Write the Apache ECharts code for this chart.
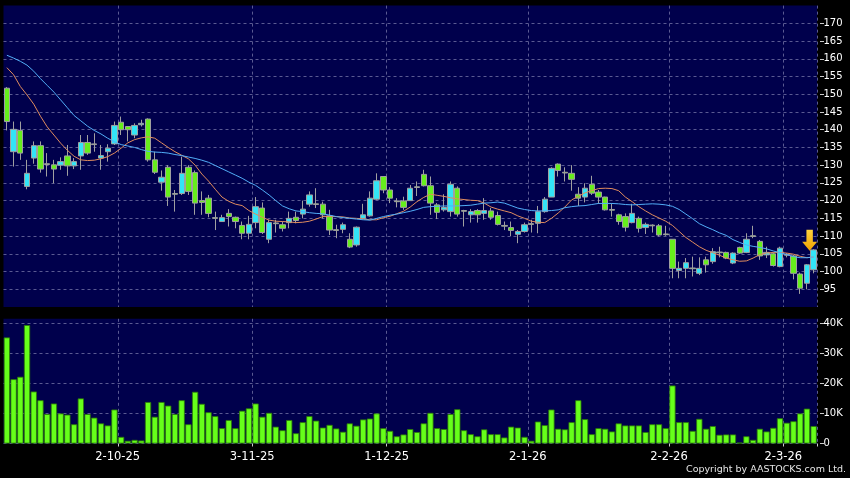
<!DOCTYPE html>
<html><head><meta charset="utf-8">
<script src="https://cdn.jsdelivr.net/npm/echarts@6/dist/echarts.min.js"></script>
<style>html,body{margin:0;padding:0;background:#000;}#c{width:850px;height:478px;}</style>
</head><body><div id="c"></div>
<script>
// ---- data ----
const tickIndex = [17, 37, 57, 78, 99, 116];
const tickLabels = ['2-10-25', '3-11-25', '1-12-25', '2-1-26', '2-2-26', '2-3-26'];
const priceTicks = [95,100,105,110,115,120,125,130,135,140,145,150,155,160,165,170];
const volumeTicks = [0,10,20,30,40];

const opens = [151.7,133.8,139.8,124.0,132.0,135.5,130.4,130.1,130.0,132.6,
129.8,132.6,136.4,136.0,132.0,133.8,136.0,142.1,140.9,138.5,
141.4,143.0,131.5,125.2,129.4,122.0,122.0,129.4,127.9,120.0,
120.7,115.2,114.1,116.4,115.3,113.0,110.8,113.8,117.9,109.1,
113.7,113.2,113.8,115.3,116.2,119.0,119.1,119.0,115.7,111.8,
111.9,109.1,107.5,115.0,115.7,120.4,126.8,123.0,119.9,119.9,
120.0,123.9,127.4,124.2,118.8,117.4,116.9,123.5,117.2,116.0,
117.2,116.4,117.1,115.8,113.0,112.4,110.5,111.3,113.5,113.6,
116.9,121.0,130.3,128.0,127.7,121.8,121.0,124.6,122.4,121.0,
117.5,116.0,115.5,113.8,115.0,112.4,113.1,112.9,110.6,109.1,
100.3,100.9,101.0,99.5,103.3,102.8,105.5,105.4,102.4,106.8,
105.4,110.1,108.5,104.7,105.0,101.4,104.8,104.4,99.3,96.7,
100.5];
const closes = [142.3,140.1,133.4,127.7,135.5,128.9,130.2,128.9,131.0,129.8,
131.0,136.4,133.4,135.8,132.7,134.8,141.2,140.0,140.0,141.2,
141.8,131.5,128.0,126.6,121.0,121.8,127.7,122.6,119.3,119.5,
116.4,115.0,115.2,115.5,114.1,110.8,113.3,118.3,111.0,113.8,
113.5,112.2,115.0,114.4,117.6,121.6,118.9,116.0,111.7,111.6,
113.2,106.9,112.5,116.0,120.7,125.6,123.0,120.7,119.7,118.1,
123.5,123.7,124.2,119.3,116.7,118.1,124.6,116.2,117.0,116.9,
116.0,117.2,115.3,113.3,112.8,111.6,111.3,113.2,113.3,116.9,
120.4,129.1,128.5,127.8,126.0,120.7,123.5,122.1,121.0,117.4,
117.3,114.1,112.5,116.4,112.2,113.3,112.9,110.3,110.4,100.9,
100.9,102.5,100.8,100.9,101.9,105.6,105.3,103.8,105.2,105.2,
109.1,109.9,104.4,105.4,101.7,106.6,104.6,99.5,95.3,101.9,
106.1];
const lows = [139.8,129.6,131.5,123.2,130.4,127.9,126.8,124.9,128.7,127.0,
128.9,128.7,132.9,133.8,128.7,131.0,135.7,138.5,136.7,137.6,
140.9,131.0,127.5,122.8,118.5,116.9,121.6,121.6,116.0,116.0,
115.3,111.7,114.1,112.7,112.2,109.1,109.1,112.2,110.6,108.0,
111.0,111.3,112.2,113.6,115.0,118.3,117.9,115.0,110.3,109.4,
110.8,106.6,107.0,114.8,115.5,120.2,122.1,119.3,118.1,117.4,
120.0,121.3,124.0,116.0,114.8,116.9,115.5,115.5,112.7,113.8,
113.8,114.6,114.6,113.0,111.7,110.0,108.0,111.0,111.0,110.8,
116.6,121.0,126.8,125.4,122.8,118.5,119.5,121.6,119.1,117.2,
115.5,113.2,111.3,113.6,111.0,110.6,111.0,109.9,110.1,98.1,
98.1,98.1,98.6,99.0,99.7,102.2,104.0,103.5,102.1,105.0,
105.2,109.4,103.3,103.8,101.4,101.2,104.0,97.8,93.7,95.0,
99.5];
const highs = [152.0,142.3,142.3,131.5,136.7,136.7,133.4,131.5,132.2,135.7,
132.0,138.5,138.5,139.0,135.7,135.9,142.3,143.7,140.9,141.8,
142.8,143.2,133.8,128.5,130.0,123.0,132.4,130.0,128.5,122.6,
121.6,116.9,116.0,117.6,115.5,114.1,115.7,121.0,119.5,114.6,
114.6,114.1,116.9,116.9,120.0,122.6,123.5,119.7,117.4,113.2,
113.8,110.8,112.7,119.1,122.6,127.7,126.8,123.8,120.7,121.1,
124.4,125.4,128.7,126.8,119.3,121.8,125.4,124.0,117.4,117.6,
117.6,120.7,117.9,116.9,114.1,114.1,111.7,113.8,114.6,118.5,
121.0,129.4,130.5,129.4,130.0,123.8,124.9,127.0,123.0,121.1,
119.1,116.3,116.4,119.1,115.5,113.8,113.3,113.4,112.9,109.1,
102.8,103.8,104.2,104.0,104.2,106.6,107.0,105.6,105.4,107.0,
110.8,112.9,108.9,107.0,105.4,107.0,105.2,104.7,99.7,102.1,
106.3];
const volumesK = [35.3,21.4,22.2,39.4,17.3,14.4,9.8,13.3,10.0,9.6,
6.4,15.0,9.8,8.6,6.7,6.0,11.3,2.2,0.9,1.2,
1.0,13.8,8.9,13.8,12.6,9.8,14.4,6.4,17.2,13.2,
10.4,9.1,5.1,7.8,5.1,10.9,11.7,13.3,8.9,10.2,
5.6,4.4,7.8,3.4,7.1,9.1,7.6,5.3,6.2,5.0,
3.9,6.7,5.9,8.0,8.3,10.0,5.1,4.2,2.4,3.0,
4.8,3.8,6.7,10.2,5.1,4.8,9.8,11.4,4.4,3.1,
2.4,4.7,3.1,3.1,2.0,5.6,5.3,2.2,0.9,7.3,
6.1,11.3,4.9,4.7,7.1,14.4,8.1,3.1,5.1,4.9,
4.0,6.7,6.0,6.0,6.0,3.8,6.4,6.4,5.1,19.3,
7.1,7.1,4.2,8.2,4.9,5.8,2.9,3.0,3.0,0.3,
2.4,1.2,4.9,4.0,5.2,8.4,6.9,7.4,10.0,11.6,
5.8];
const ma10 = [157.5,155.5,152.2,149.8,147.2,143.8,140.8,138.5,136.2,134.2,
132.5,131.5,131.3,131.4,131.8,132.4,133.4,134.8,136.3,137.2,
137.7,138.0,137.6,136.3,135.0,133.8,132.8,131.8,130.0,127.5,
125.5,123.2,121.0,119.8,119.0,118.6,117.2,116.2,115.3,114.5,
114.2,114.1,114.0,113.8,113.9,114.2,114.8,115.5,115.5,115.5,
115.4,115.1,115.0,114.8,114.6,114.6,115.2,115.6,116.3,117.0,
118.2,119.7,120.9,121.8,121.5,121.2,120.8,120.5,120.3,120.1,
120.0,119.3,118.2,117.6,117.1,116.6,115.7,115.0,114.2,113.9,
113.8,115.0,116.5,118.2,120.2,121.2,122.2,122.8,123.4,123.5,
123.4,122.8,121.0,119.7,118.3,117.1,116.0,115.1,114.2,113.0,
111.3,109.6,108.3,107.0,106.0,105.3,104.6,103.8,103.3,102.9,
103.0,103.8,104.8,105.2,105.4,105.4,105.2,104.9,104.3,103.9,
104.1];
const ma20 = [161.0,160.2,159.3,158.2,156.5,154.4,152.5,150.6,148.4,146.2,
144.0,142.5,141.0,139.8,138.8,137.6,136.6,135.8,135.4,135.0,
134.4,133.9,133.7,133.6,133.4,133.0,132.7,132.3,131.9,131.4,
130.8,129.9,129.0,128.1,127.2,126.3,125.2,124.3,123.0,121.6,
120.0,118.5,117.7,117.1,116.9,116.6,116.4,116.3,115.9,115.5,
115.2,115.0,114.8,114.6,114.5,115.0,115.5,115.9,116.2,116.6,
117.0,117.5,118.1,118.3,118.4,118.5,118.5,118.5,118.6,118.7,
119.0,119.3,119.4,119.6,119.3,118.6,117.9,117.5,117.2,117.1,
117.1,117.2,117.4,118.0,118.3,118.5,118.6,118.9,119.2,119.2,
119.2,119.1,118.9,118.8,118.9,119.0,119.1,119.0,118.8,118.4,
117.5,116.2,114.9,113.5,112.6,111.8,110.9,110.2,109.0,108.2,
107.5,107.1,106.8,106.4,105.8,105.3,104.8,104.2,103.9,103.9,
104.1];
const categories = opens.map((_, i) => String(i));
const arrowAt = { index: 120, value: 108.8 };

// ---- styling ----
const NAVY = '#00004c';
const GRIDC = '#5a5a92';
const CYAN = '#33e4f7';
const GREEN = '#66ee1c';
const isTick = (i) => tickIndex.indexOf(i) >= 0;

const chart = echarts.init(document.getElementById('c'), null, {renderer: 'canvas'});
const candleData = opens.map((o, i) => [o, closes[i], lows[i], highs[i]]);

const option = {
  backgroundColor: '#000',
  animation: false,
  textStyle: {fontFamily: 'DejaVu Sans'},
  grid: [
    {left: 3.5, top: 5.6, width: 813.5, height: 301.4, show: true, backgroundColor: NAVY, borderWidth: 0},
    {left: 3.5, top: 318.8, width: 813.5, height: 124.7, show: true, backgroundColor: NAVY, borderWidth: 0}
  ],
  xAxis: [
    {type: 'category', gridIndex: 0, data: categories, boundaryGap: true,
     axisLine: {show: false}, axisTick: {show: false}, axisLabel: {show: false},
     splitLine: {show: true, interval: (i) => isTick(i), lineStyle: {color: GRIDC, type: [3, 3], width: 1}}},
    {type: 'category', gridIndex: 1, data: categories, boundaryGap: true, offset: 3,
     axisLine: {show: false},
     axisTick: {show: true, interval: (i) => isTick(i), length: 3, lineStyle: {color: '#cccccc'}},
     axisLabel: {show: true, interval: (i) => isTick(i), color: '#ffffff', fontSize: 11.5, margin: 5,
       padding: [0, 7, 0, 0],
       formatter: (v, i) => { const k = tickIndex.indexOf(Number(v)); return k >= 0 ? tickLabels[k] : ''; }},
     splitLine: {show: true, interval: (i) => isTick(i), lineStyle: {color: GRIDC, type: [3, 3], width: 1}}}
  ],
  yAxis: [
    {type: 'value', gridIndex: 0, position: 'right', min: 90, max: 175, interval: 5, offset: 3,
     axisLine: {show: false},
     axisTick: {show: true, length: 4, customValues: priceTicks, lineStyle: {color: '#cccccc'}},
     axisLabel: {color: '#ffffff', fontSize: 10, margin: 3.5, customValues: priceTicks},
     splitLine: {show: true, lineStyle: {color: GRIDC, type: [3, 3], width: 1}}},
    {type: 'value', gridIndex: 1, position: 'right', min: 0, max: 41.5, interval: 10, offset: 3,
     axisLine: {show: false},
     axisTick: {show: true, length: 4, customValues: volumeTicks, lineStyle: {color: '#cccccc'}},
     axisLabel: {color: '#ffffff', fontSize: 10, margin: 3.5, customValues: volumeTicks,
       formatter: (v) => v === 0 ? '0' : v + 'K'},
     splitLine: {show: true, lineStyle: {color: GRIDC, type: [3, 3], width: 1}}}
  ],
  series: [
    {type: 'candlestick', xAxisIndex: 0, yAxisIndex: 0, data: candleData, barWidth: 5.8,
     itemStyle: {color: CYAN, color0: GREEN, borderColor: '#a0a0a0', borderColor0: '#a0a0a0', borderWidth: 1},
     markPoint: {
       silent: true,
       data: [{coord: [categories[arrowAt.index], arrowAt.value],
         symbol: 'path://M4,0L10,0L10,12L14,12L7,21L0,12L4,12Z',
         symbolSize: [15, 21], symbolOffset: [-4, 0],
         itemStyle: {color: new echarts.graphic.LinearGradient(0, 0, 0, 1,
           [{offset: 0, color: '#ffd23c'}, {offset: 1, color: '#f0a000'}])},
         label: {show: false}}]
     }},
    {type: 'line', xAxisIndex: 0, yAxisIndex: 0, data: ma10, showSymbol: false, symbol: 'none',
     lineStyle: {color: '#e08c5e', width: 1}, z: 3},
    {type: 'line', xAxisIndex: 0, yAxisIndex: 0, data: ma20, showSymbol: false, symbol: 'none',
     lineStyle: {color: '#52aef8', width: 1}, z: 3},
    {type: 'bar', xAxisIndex: 1, yAxisIndex: 1, data: volumesK, barWidth: 6.2,
     itemStyle: {color: '#66ff1a', borderColor: '#2c7a08', borderWidth: 0.8}}
  ],
  graphic: [
    {type: 'text', right: 4, top: 465,
     style: {text: 'Copyright by AASTOCKS.com Ltd.', fill: '#e6e6e6', fontSize: 9.5, fontFamily: 'DejaVu Sans'}}
  ]
};
chart.setOption(option);
</script>
</body></html>
